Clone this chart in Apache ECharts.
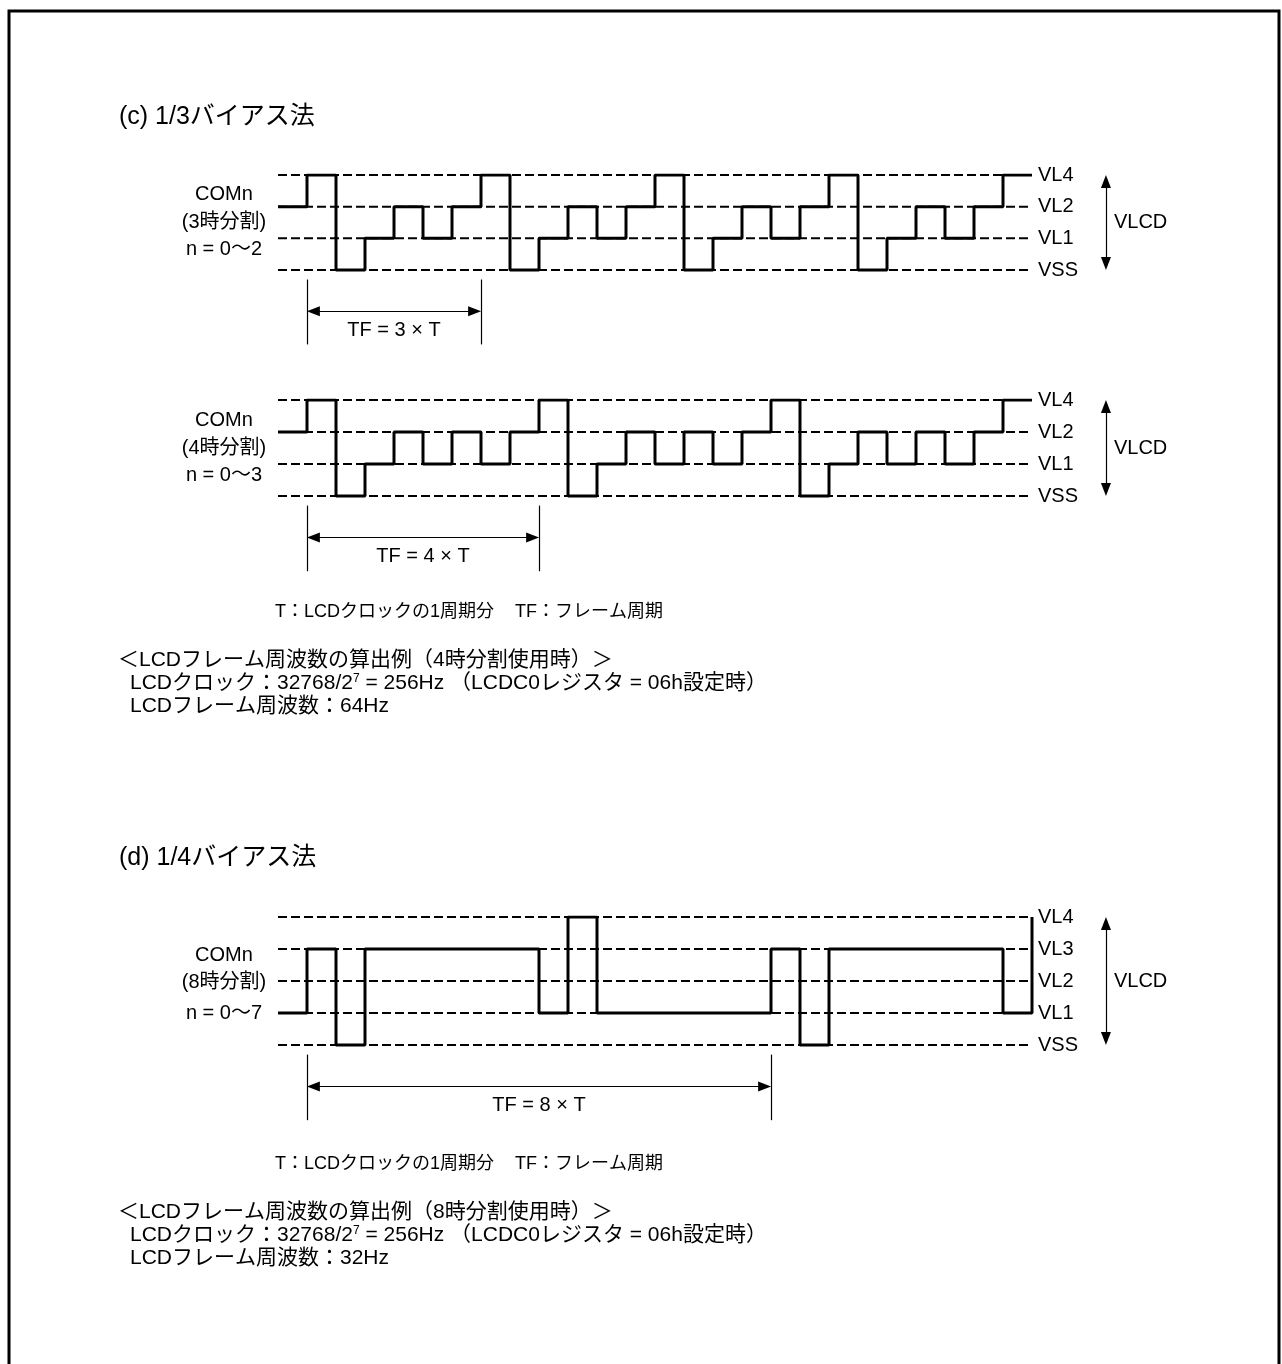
<!DOCTYPE html>
<html>
<head>
<meta charset="utf-8">
<script src="https://cdn.jsdelivr.net/npm/echarts@6/dist/echarts.min.js"></script>
<style>
html, body { margin: 0; padding: 0; background: #fff; }
#chart { width: 1282px; height: 1364px; }
</style>
</head>
<body>
<div id="chart"></div>
<script>
// level names, index = value on the y axis
let levels13 = ['VSS', 'VL1', 'VL2', 'VL4']
let levels14 = ['VSS', 'VL1', 'VL2', 'VL3', 'VL4']

// COMn waveform, one value per half T (last value closes the step)
let com3 = [2, 3, 0, 1, 2, 1, 2, 3, 0, 1, 2, 1, 2, 3, 0, 1, 2, 1, 2, 3, 0, 1, 2, 1, 2, 3, 3]
let com4 = [2, 3, 0, 1, 2, 1, 2, 1, 2, 3, 0, 1, 2, 1, 2, 1, 2, 3, 0, 1, 2, 1, 2, 1, 2, 3, 3]
let com8 = [1, 3, 0, 3, 3, 3, 3, 3, 3, 1, 4, 1, 1, 1, 1, 1, 1, 3, 0, 3, 3, 3, 3, 3, 3, 1, 4]

// one frame: start / end in half-T units
let frame3 = [1, 7]
let frame4 = [1, 9]
let frame8 = [1, 17]
let tfText = ['TF = 3 × T', 'TF = 4 × T', 'TF = 8 × T']
let comText = [
    ['COMn', '(3時分割)', 'n = 0〜2'],
    ['COMn', '(4時分割)', 'n = 0〜3'],
    ['COMn', '(8時分割)', 'n = 0〜7']
]
let titles = ['(c) 1/3バイアス法', '(d) 1/4バイアス法']
let legendText = ['T：LCDクロックの1周期分', 'TF：フレーム周期']
let notes4 = ['＜LCDフレーム周波数の算出例（4時分割使用時）＞', 'LCDクロック：32768/2{sup|7} = 256Hz （LCDC0レジスタ = 06h設定時）', 'LCDフレーム周波数：64Hz']
let notes8 = ['＜LCDフレーム周波数の算出例（8時分割使用時）＞', 'LCDクロック：32768/2{sup|7} = 256Hz （LCDC0レジスタ = 06h設定時）', 'LCDフレーム周波数：32Hz']

const FONT = '"Liberation Sans", Arial, "Noto Sans CJK JP", sans-serif'
const VLCD_X = 28.55

let mychart = echarts.init(document.getElementById('chart'))

let grids = []
let xAxes = []
let yAxes = []
let series = []

let addPanel = (idx, levels, com, frame, tf, top, unit) => {
    let maxLv = levels.length - 1
    let last = com.length - 1
    grids.push({ left: 278, top: top, width: 870, height: unit * (maxLv + 3) })
    xAxes.push({ gridIndex: idx, type: 'value', min: 0, max: 30, show: false })
    yAxes.push({ gridIndex: idx, type: 'value', min: -3, max: maxLv, show: false })

    // dashed level lines with their names on the right
    levels.forEach((name, lv) => {
        series.push({
            type: 'line',
            name: name + idx,
            xAxisIndex: idx,
            yAxisIndex: idx,
            data: [[0, lv], [last, lv]],
            symbol: 'none',
            silent: true,
            lineStyle: { color: '#000', width: 2, type: [9, 4] },
            endLabel: {
                show: true,
                formatter: () => name,
                distance: 6,
                color: '#000',
                fontSize: 20,
                fontFamily: FONT
            },
            z: 2
        })
    })

    let tipX = 0.22 // half arrow head, in half-T units
    let tipY = 6.5 / unit
    let arrowEnd = { symbol: 'triangle', symbolSize: [10, 13] }
    series.push({
        type: 'line',
        name: 'COMn' + idx,
        xAxisIndex: idx,
        yAxisIndex: idx,
        data: com.map((v, i) => [i, v]),
        step: 'end',
        symbol: 'none',
        silent: true,
        lineStyle: { color: '#000', width: 3 },
        z: 5,
        markLine: {
            silent: true,
            symbol: ['none', 'none'],
            label: { show: false },
            lineStyle: { color: '#000', width: 1.2, type: 'solid' },
            data: [
                [{ coord: [frame[0], -0.3] }, { coord: [frame[0], -2.35] }],
                [{ coord: [frame[1], -0.3] }, { coord: [frame[1], -2.35] }],
                [
                    Object.assign({
                        coord: [frame[0] + tipX, -1.3],
                        label: {
                            show: true,
                            position: 'insideMiddleBottom',
                            distance: 9,
                            formatter: tf,
                            color: '#000',
                            fontSize: 20,
                            fontFamily: FONT
                        }
                    }, arrowEnd),
                    Object.assign({ coord: [frame[1] - tipX, -1.3] }, arrowEnd)
                ],
                [
                    Object.assign({ coord: [VLCD_X, maxLv - tipY] }, arrowEnd),
                    Object.assign({ coord: [VLCD_X, tipY] }, arrowEnd)
                ]
            ]
        },
        markPoint: {
            silent: true,
            symbol: 'circle',
            symbolSize: 0,
            data: [{
                coord: [VLCD_X, maxLv / 2],
                label: {
                    show: true,
                    position: 'right',
                    distance: 8,
                    formatter: 'VLCD',
                    color: '#000',
                    fontSize: 20,
                    fontFamily: FONT
                }
            }]
        }
    })
}

addPanel(0, levels13, com3, frame3, tfText[0], 175, 95 / 3)
addPanel(1, levels13, com4, frame4, tfText[1], 400, 32)
addPanel(2, levels14, com8, frame8, tfText[2], 917, 32)

let text = (x, y, str, size, align) => ({
    type: 'text',
    x: x,
    y: y,
    silent: true,
    style: {
        text: str,
        fill: '#000',
        fontSize: size,
        fontFamily: FONT,
        align: align || 'left',
        verticalAlign: 'middle',
        rich: { sup: { fontSize: 12, fontFamily: FONT, verticalAlign: 'top' } }
    }
})

let graphics = [{
    type: 'rect',
    silent: true,
    shape: { x: 9, y: 11, width: 1270, height: 1400 },
    style: { fill: 'none', stroke: '#000', lineWidth: 3 }
}]
graphics.push(text(119, 117, titles[0], 25))
graphics.push(text(119, 858, titles[1], 25))

// left COMn labels, placed against each panel's VSS line
let vssY = [270, 496, 1045]
let labelOffs = [[-76, -48, -21], [-76, -48, -21], [-90, -63, -32]]
comText.forEach((lines, p) => {
    lines.forEach((s, k) => graphics.push(text(224, vssY[p] + labelOffs[p][k], s, 20, 'center')))
})

graphics.push(text(275, 612, legendText[0], 18))
graphics.push(text(515, 612, legendText[1], 18))
graphics.push(text(275, 1164, legendText[0], 18))
graphics.push(text(515, 1164, legendText[1], 18))

notes4.forEach((s, k) => graphics.push(text(k == 0 ? 118 : 130, 660 + k * 23, s, 21)))
notes8.forEach((s, k) => graphics.push(text(k == 0 ? 118 : 130, 1212 + k * 23, s, 21)))

let options = {
    animation: false,
    backgroundColor: '#fff',
    grid: grids,
    xAxis: xAxes,
    yAxis: yAxes,
    series: series,
    graphic: graphics
}
mychart.setOption(options)
</script>
</body>
</html>
